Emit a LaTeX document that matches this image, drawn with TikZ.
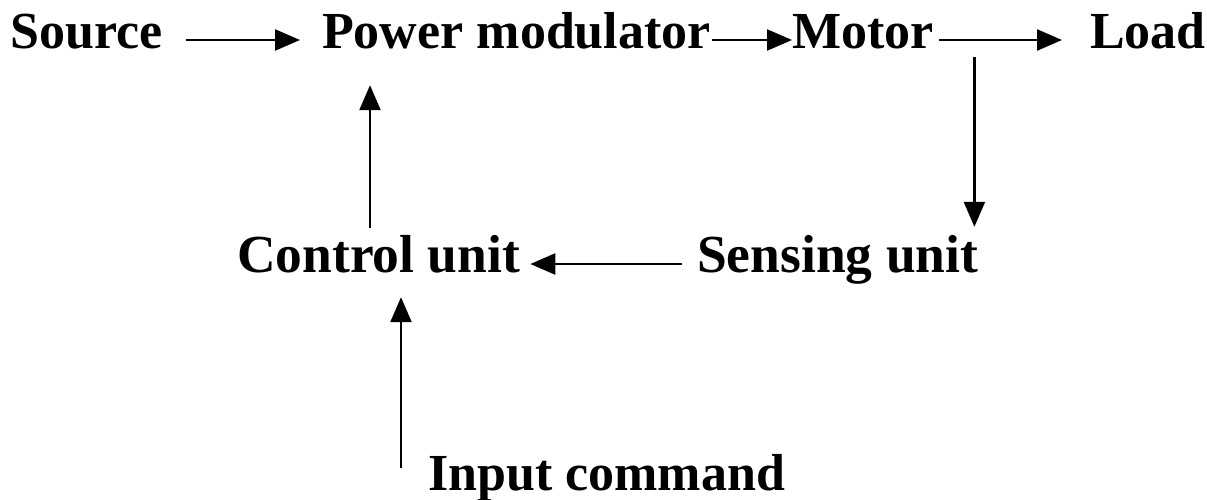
\documentclass[tikz,border=0pt]{standalone}
\usepackage{fontspec}
\setmainfont{Liberation Serif}
\usetikzlibrary{arrows.meta,calc}
\begin{document}
\begin{tikzpicture}[x=1pt,y=-1pt,
  lbl/.style={inner sep=0pt, anchor=base west, font=\fontsize{52}{60}\selectfont\bfseries, text height=34pt, text depth=18pt},
  lblb/.style={lbl, font=\fontsize{53.5}{60}\selectfont\bfseries},
  arr/.style={line width=2.4pt, -{Triangle[length=25pt,width=21pt]}}]
\useasboundingbox (0,0) rectangle (1207,499);
\node[lbl] (src) at (10,48) {Source};
\node[lbl] (pm) at (322,48) {Power modulator};
\node[lbl] (mot) at (792,48) {Motor};
\node[lbl] (load) at (1090,48) {Load};
\node[lblb] (ctl) at (237,272) {Control unit};
\node[lblb] (sens) at (697,272) {Sensing unit};
\node[lbl] (inp) at (428,490) {Input command};
\draw[arr, shorten <=23pt, shorten >=22pt] (src.east) -- (pm.west);
\draw[arr, shorten <=1pt] (pm.east) -- (mot.west);
\draw[arr, shorten <=5pt, shorten >=28pt] (mot.east) -- (load.west);
\draw[arr, shorten >=11pt] ($(sens.north east |- mot.south)+(-4,-9)$) -- ($(sens.north east)+(-4,0)$);
\draw[arr, shorten <=15pt, shorten >=10pt] (sens.west) -- (ctl.east);
\draw[arr, shorten <=10pt, shorten >=19pt] ($(ctl.north west)+(133,0)$) -- ($(ctl.north west |- pm.south)+(133,0)$);
\draw[arr, shorten >=7pt] ($(inp.west)+(-27,-14)$) -- ($(inp.west |- ctl.south)+(-27,0)$);
\end{tikzpicture}
\end{document}
